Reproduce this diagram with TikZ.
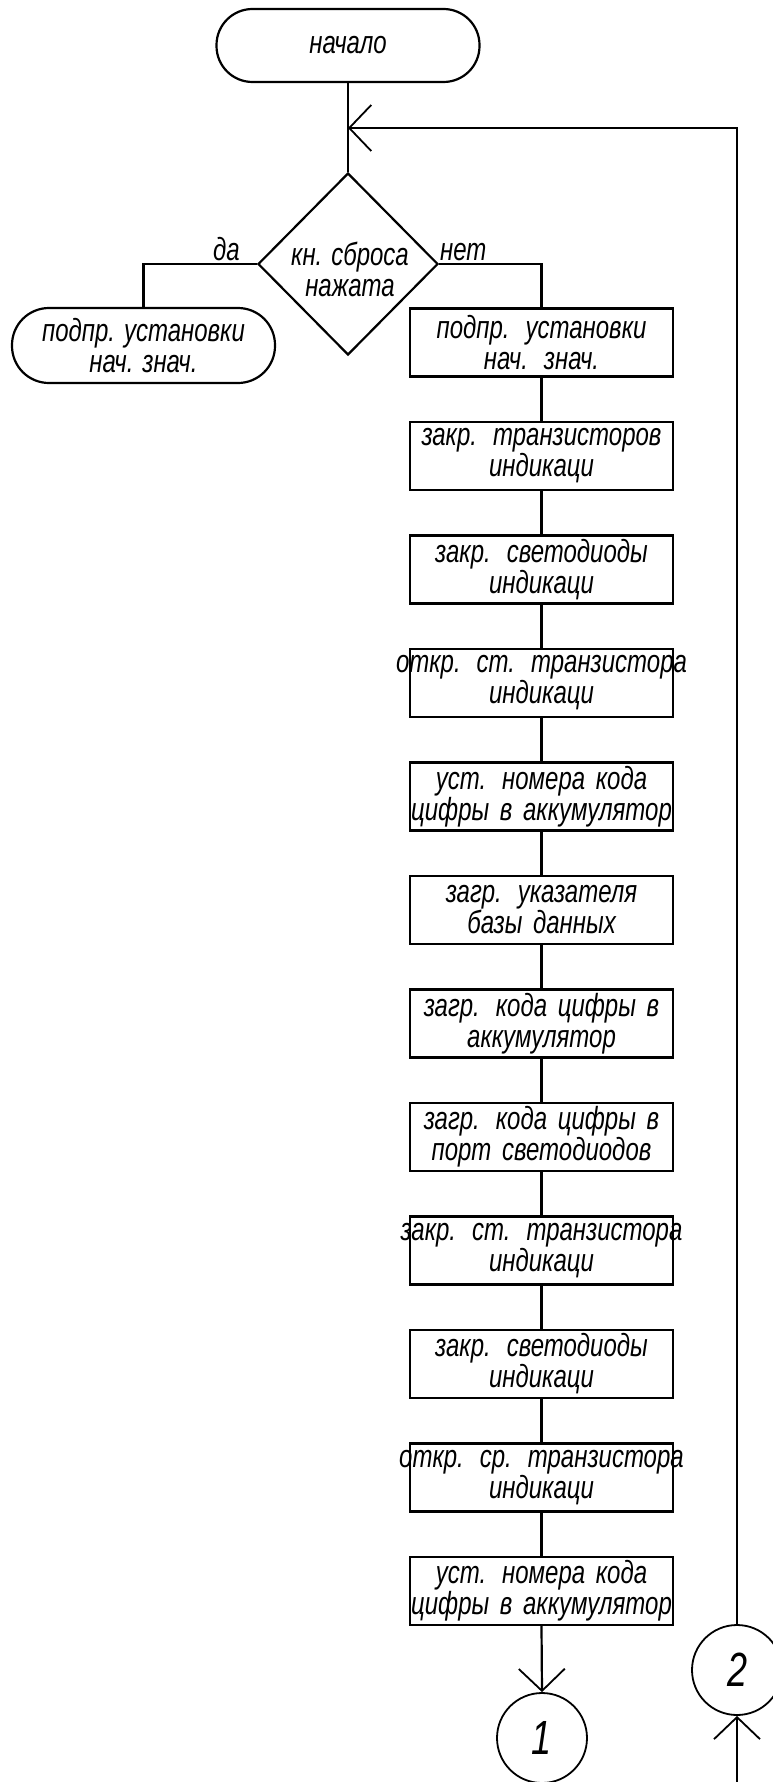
\documentclass[tikz,border=0pt]{standalone}
\usepackage{fontspec}
\setmainfont{Liberation Sans}[FakeStretch=0.75]
\usetikzlibrary{shapes.geometric,arrows.meta}
\newcommand{\myline}[1]{\makebox[0pt][c]{#1}}
\begin{document}
\begin{tikzpicture}[x=1pt,y=-1pt,
  every node/.style={font=\fontsize{32}{31}\selectfont\itshape, text=black},
  proc/.style={draw, line width=2.2pt, minimum width=263pt, minimum height=68pt, text width=263pt, inner sep=0pt, align=center},
  term/.style={draw, line width=2.2pt, rounded corners=36pt, minimum width=263pt, minimum height=73pt, inner sep=0pt, align=center},
  flow/.style={line width=2.2pt},
  tip/.style={-{Straight Barb[length=22pt,width=46pt,line width=1.8pt]}},
  conn/.style={draw, circle, line width=1.8pt, minimum size=90pt, inner sep=0pt, font=\fontsize{48}{48}\selectfont\itshape}
]
\useasboundingbox (0,0) rectangle (773,1782);
\clip (0,0) rectangle (773,1782);

\node[term] (start) at (348,45.5) {начало};
\node[diamond, draw, line width=2.2pt, minimum width=180pt, minimum height=182pt, inner sep=0pt] (dec) at (348,264) {};
\node[align=center, inner sep=0pt] (dect) at (350,269) {кн. сброса\\нажата};
\node[anchor=base east, inner sep=0pt] (da) at (240,260) {да};
\node[anchor=base west, inner sep=0pt] (net) at (440,260) {нет};
\node[term, minimum height=75pt, rounded corners=37pt] (lt) at (143.5,345.5) {подпр. установки\\нач. знач.};

\node[proc] (b1) at (541.5,342.5) {\myline{подпр. установки}\\\myline{нач. знач.}};
\node[proc] (b2) at (541.5,456) {\myline{закр. транзисторов}\\\myline{индикаци}};
\node[proc] (b3) at (541.5,569.5) {\myline{закр. светодиоды}\\\myline{индикаци}};
\node[proc] (b4) at (541.5,683) {\myline{откр. ст. транзистора}\\\myline{индикаци}};
\node[proc] (b5) at (541.5,796.5) {\myline{уст. номера кода}\\\myline{цифры в аккумулятор}};
\node[proc] (b6) at (541.5,910) {\myline{загр. указателя}\\\myline{базы данных}};
\node[proc] (b7) at (541.5,1023.5) {\myline{загр. кода цифры в}\\\myline{аккумулятор}};
\node[proc] (b8) at (541.5,1137) {\myline{загр. кода цифры в}\\\myline{порт светодиодов}};
\node[proc] (b9) at (541.5,1250.5) {\myline{закр. ст. транзистора}\\\myline{индикаци}};
\node[proc] (b10) at (541.5,1364) {\myline{закр. светодиоды}\\\myline{индикаци}};
\node[proc] (b11) at (541.5,1477.5) {\myline{откр. ср. транзистора}\\\myline{индикаци}};
\node[proc] (b12) at (541.5,1591) {\myline{уст. номера кода}\\\myline{цифры в аккумулятор}};

\node[conn] (c1) at (542,1738) {1};
\node[conn] (c2) at (737,1670) {2};

\coordinate (j) at (348,128);
\coordinate (bot) at (737,1782);

\draw[flow] (start.south) -- (dec.north);
\draw[flow] (dec.west) -| (lt.north);
\draw[flow] (dec.east) -| (b1.north);
\foreach \a/\b in {1/2,2/3,3/4,4/5,5/6,6/7,7/8,8/9,9/10,10/11,11/12}
  \draw[flow] (b\a.south) -- (b\b.north);
\draw[flow,tip] (b12.south) -- (c1.north);
\draw[flow,tip] (bot) -- (c2.south);
\draw[flow,tip] (c2.north) |- (j);
\end{tikzpicture}
\end{document}
